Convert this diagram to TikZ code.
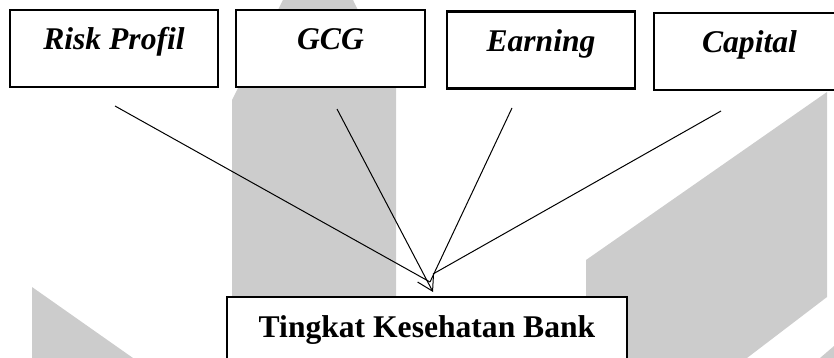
\documentclass[tikz,border=0pt]{standalone}
\usepackage{fontspec}
\setmainfont{Liberation Serif}
\usetikzlibrary{arrows.meta}
\definecolor{wmgray}{gray}{0.8}
\tikzset{
factor/.style={draw, line width=2.8pt, fill=white,
    inner xsep=0pt, inner ysep=18pt,
    text height=22pt, text depth=19pt, minimum height=77pt,
    font=\fontsize{31.6}{36}\selectfont\bfseries\itshape},
result/.style={factor, font=\fontsize{31.6}{36}\selectfont\bfseries},
link/.style={line width=1pt},
}

\begin{document}
\begin{tikzpicture}[x=1pt,y=-1pt]
            \useasboundingbox (0,0) rectangle (834,358);
            \clip (0,0) rectangle (834,358);
            % watermark behind the diagram
            \fill[wmgray] (283,0) -- (353,0) -- (396,87) -- (396,300) -- (232,300) -- (232,100) -- cycle;
            \fill[wmgray] (586,260) -- (827,92) -- (827,297) -- (747,358) -- (586,358) -- cycle;
            \fill[wmgray] (820,358) -- (834,346) -- (834,358) -- cycle;
            \fill[wmgray] (32,287) -- (133,358) -- (32,358) -- cycle;
            % boxes
            \node[factor, minimum width=208pt] (risk) at (114,48.5) {Risk Profil};
            \node[factor, minimum width=189pt] (gcg) at (330.5,48.5) {GCG};
            \node[factor, minimum width=188pt] (earning) at (541,50) {Earning};
            \node[factor, minimum width=191pt] (capital) at (749.5,51.5) {Capital};
            \node[result, minimum width=400pt] (tkb) at (427,335.5) {Tingkat Kesehatan Bank};
            % line ends
            \coordinate (risk-out) at (115,106);
            \coordinate (gcg-out) at (337,109);
            \coordinate (earning-out) at (512,108);
            \coordinate (capital-out) at (721,111);
            \coordinate (meet) at (430,282);
            \coordinate (meet-c) at (433,274);
            \coordinate (tip) at (433,292);
            \draw[link] (risk-out) -- (meet);
            \draw[link] (earning-out) -- (meet);
            \draw[link] (capital-out) -- (meet-c);
            \draw[link, -{Straight Barb[length=15pt,width=18pt]}] (gcg-out) -- (tip);
        \end{tikzpicture}
\end{document}
